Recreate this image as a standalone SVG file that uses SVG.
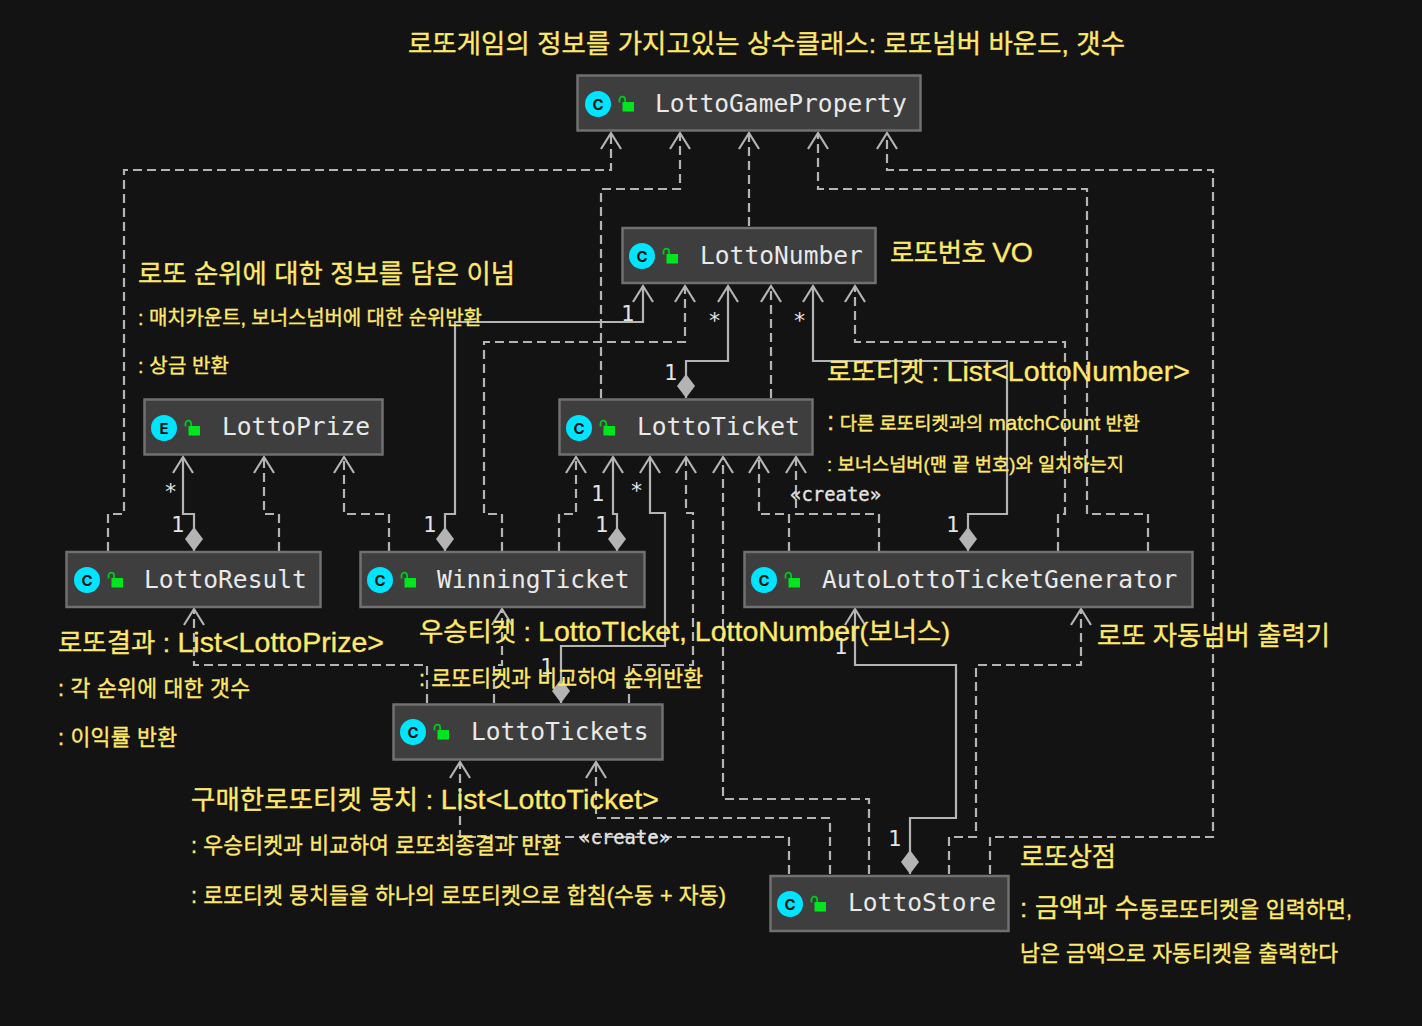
<svg xmlns="http://www.w3.org/2000/svg" width="1422" height="1026" viewBox="0 0 1422 1026">
<style>
.box{fill:#3e3e3e;stroke:#707070;stroke-width:2.5}
.name{font-family:"DejaVu Sans Mono","Liberation Mono",monospace;font-size:24.6px;fill:#e9e9e9}
.circ{fill:#00e5ff}
.ic{font-family:"Inter","Liberation Sans",sans-serif;font-size:15px;font-weight:700;fill:#111;text-anchor:middle}
.s,.d{fill:none;stroke:#b4b4b4;stroke-width:2.2}
.d{stroke-dasharray:9 5}
.s{marker-end:url(#arrow);marker-start:url(#dia)}
.d{marker-end:url(#arrow)}
.lab{font-family:"DejaVu Sans Mono",monospace;font-size:22px;fill:#e4e4e4}
.cr{font-family:"DejaVu Sans Mono",monospace;font-size:20px;fill:#e4e4e4;stroke:#e4e4e4;stroke-width:.3}
.big,.sm{font-family:"Liberation Sans","Noto Sans CJK KR",sans-serif;fill:#ffe96b;stroke:#ffe96b;stroke-width:.35}
.big{font-size:26.4px}
.sm{font-size:21.6px}
.lat{font-size:28.5px}
.s20{font-size:20px}
.s19{font-size:18.7px}
.lat2{font-size:20.5px}
.col{font-size:26px}
</style>
<defs>
<marker id="arrow" markerUnits="userSpaceOnUse" markerWidth="24" markerHeight="28" refX="21" refY="12" orient="auto" overflow="visible"><path d="M5,2 L21,12 L5,22" fill="none" stroke="#b4b4b4" stroke-width="2.2"/></marker>
<marker id="dia" markerUnits="userSpaceOnUse" markerWidth="28" markerHeight="22" refX="0" refY="10" orient="auto" overflow="visible"><path d="M0,10 L12,1 L24,10 L12,19Z" fill="#b4b4b4"/></marker>
<g id="lock"><path d="M0.500,6.500V3.500a2.800,2.800 0 0 1 5.600,0V6" fill="none" stroke="#00c81e" stroke-width="1.8"/><rect x="3.500" y="6" width="11.500" height="9.500" fill="#00e61e"/></g>
</defs>
<rect width="1422" height="1026" fill="#131313"/>
<g id="connectors">
<path class="d" d="M108,551V514H124V170H611V133"/>
<path class="d" d="M601,398V189H680V133"/>
<path class="d" d="M749,226V133"/>
<path class="d" d="M1148,551V514H1087V189H818V133"/>
<path class="d" d="M990,874V837H1213V170H887V133"/>
<path class="s" d="M445,551V514H455V322H643V286"/>
<path class="d" d="M502,551V514H484V342H685V286"/>
<path class="s" d="M686,398V361H728V286"/>
<path class="d" d="M771,398V286"/>
<path class="s" d="M968,551V514H1007V361H813V286"/>
<path class="d" d="M1058,551V514H1065V342H855V286"/>
<path class="s" d="M194,551V514H183V457"/>
<path class="d" d="M279,551V514H264V457"/>
<path class="d" d="M389,551V514H344V457"/>
<path class="d" d="M559,551V514H576V457"/>
<path class="s" d="M617,551V514H613V457"/>
<path class="s" d="M561,703V646H665V513H650V457"/>
<path class="d" d="M629,703V665H693V513H686V457"/>
<path class="d" d="M869,874V799H723V457"/>
<path class="d" d="M789,551V514H759V457"/>
<path class="d" d="M879,551V514H796V457"/>
<path class="d" d="M494,703V665H502V609"/>
<path class="d" d="M427,703V665H194V609"/>
<path class="d" d="M789,874V837H460V762"/>
<path class="d" d="M830,874V818H596V762"/>
<path class="s" d="M910,874V818H956V665H855V609"/>
<path class="d" d="M949,874V837H976V665H1081V609"/>
<text class="lab" x="621" y="321">1</text>
<text class="lab" x="708" y="328">*</text>
<text class="lab" x="664" y="380">1</text>
<text class="lab" x="793" y="328">*</text>
<text class="lab" x="946" y="532">1</text>
<text class="lab" x="423" y="532">1</text>
<text class="lab" x="164" y="499">*</text>
<text class="lab" x="171" y="532">1</text>
<text class="lab" x="591" y="501">1</text>
<text class="lab" x="595" y="532">1</text>
<text class="lab" x="630" y="498">*</text>
<text class="lab" x="540" y="674">1</text>
<text class="lab" x="834" y="654">1</text>
<text class="lab" x="888" y="846">1</text>
<text class="cr" x="790" y="501" textLength="91" lengthAdjust="spacingAndGlyphs">«create»</text>
<text class="cr" x="579" y="844" textLength="91" lengthAdjust="spacingAndGlyphs">«create»</text>
</g>
<g id="LottoGameProperty"><rect class="box" x="577.500" y="75.500" width="343" height="55"/><circle class="circ" cx="598" cy="104" r="13"/><text class="ic" x="598" y="109.500">C</text><use href="#lock" x="619" y="96"/><text class="name" x="655" y="112">LottoGameProperty</text></g>
<g id="LottoNumber"><rect class="box" x="622.500" y="228" width="253" height="55"/><circle class="circ" cx="642" cy="256" r="13"/><text class="ic" x="642" y="261.500">C</text><use href="#lock" x="663" y="248"/><text class="name" x="700" y="264">LottoNumber</text></g>
<g id="LottoPrize"><rect class="box" x="144.500" y="399.500" width="238" height="55"/><circle class="circ" cx="164" cy="428" r="13"/><text class="ic" x="164" y="433.500">E</text><use href="#lock" x="185" y="420"/><text class="name" x="222" y="435">LottoPrize</text></g>
<g id="LottoTicket"><rect class="box" x="559.500" y="399.500" width="253" height="55"/><circle class="circ" cx="579" cy="428" r="13"/><text class="ic" x="579" y="433.500">C</text><use href="#lock" x="600" y="420"/><text class="name" x="637" y="435">LottoTicket</text></g>
<g id="LottoResult"><rect class="box" x="66.500" y="552" width="254" height="55"/><circle class="circ" cx="87" cy="580" r="13"/><text class="ic" x="87" y="585.500">C</text><use href="#lock" x="108" y="572"/><text class="name" x="144" y="588">LottoResult</text></g>
<g id="WinningTicket"><rect class="box" x="360.500" y="552" width="284" height="55"/><circle class="circ" cx="380" cy="580" r="13"/><text class="ic" x="380" y="585.500">C</text><use href="#lock" x="401" y="572"/><text class="name" x="437" y="588">WinningTicket</text></g>
<g id="AutoLottoTicketGenerator"><rect class="box" x="744.500" y="552" width="448" height="55"/><circle class="circ" cx="764" cy="580" r="13"/><text class="ic" x="764" y="585.500">C</text><use href="#lock" x="785" y="572"/><text class="name" x="822" y="588">AutoLottoTicketGenerator</text></g>
<g id="LottoTickets"><rect class="box" x="393.500" y="704.500" width="269" height="55"/><circle class="circ" cx="413" cy="732" r="13"/><text class="ic" x="413" y="737.500">C</text><use href="#lock" x="434" y="724"/><text class="name" x="471" y="740">LottoTickets</text></g>
<g id="LottoStore"><rect class="box" x="770.500" y="876" width="238" height="55"/><circle class="circ" cx="790" cy="904" r="13"/><text class="ic" x="790" y="909.500">C</text><use href="#lock" x="811" y="896"/><text class="name" x="848" y="911">LottoStore</text></g>
<g id="notes">
<text class="big" x="408" y="53" textLength="717">로또게임의 정보를 가지고있는 상수클래스: 로또넘버 바운드, 갯수</text>
<text class="big" x="890" y="262" textLength="143">로또번호 <tspan class="lat">VO</tspan></text>
<text class="big" x="138" y="283" textLength="377">로또 순위에 대한 정보를 담은 이넘</text>
<text class="sm s20" x="138" y="325" textLength="344">: 매치카운트, 보너스넘버에 대한 순위반환</text>
<text class="sm s20" x="138" y="373" textLength="91">: 상금 반환</text>
<text class="big" x="827" y="381" textLength="363">로또티켓 : <tspan class="lat">List&lt;LottoNumber&gt;</tspan></text>
<text class="sm s19" x="827" y="430" textLength="313"><tspan class="col">:</tspan> 다른 로또티켓과의 <tspan class="lat2">matchCount</tspan> 반환</text>
<text class="sm s19" x="827" y="471" textLength="297">: 보너스넘버(맨 끝 번호)와 일치하는지</text>
<text class="big" x="58" y="652" textLength="326">로또결과 : <tspan class="lat">List&lt;LottoPrize&gt;</tspan></text>
<text class="sm" x="58" y="696" textLength="192">: 각 순위에 대한 갯수</text>
<text class="sm" x="58" y="745" textLength="119">: 이익률 반환</text>
<text class="big" x="419" y="641" textLength="531">우승티켓 : <tspan class="lat">LottoTIcket, LottoNumber</tspan>(보너스)</text>
<text class="sm" x="419" y="686" textLength="284">: 로또티켓과 비교하여 순위반환</text>
<text class="big" x="191" y="809" textLength="468">구매한로또티켓 뭉치 : <tspan class="lat">List&lt;LottoTicket&gt;</tspan></text>
<text class="sm" x="191" y="853" textLength="370">: 우승티켓과 비교하여 로또최종결과 반환</text>
<text class="sm" x="191" y="903" textLength="535">: 로또티켓 뭉치들을 하나의 로또티켓으로 합침(수동 + 자동)</text>
<text class="big" x="1097" y="645" textLength="233">로또 자동넘버 출력기</text>
<text class="big" x="1020" y="866" textLength="96">로또상점</text>
<text class="sm" x="1020" y="917" textLength="332"><tspan class="col">: 금액과 수</tspan>동로또티켓을 입력하면,</text>
<text class="sm" x="1020" y="961" textLength="318">남은 금액으로 자동티켓을 출력한다</text>
</g>
</svg>
